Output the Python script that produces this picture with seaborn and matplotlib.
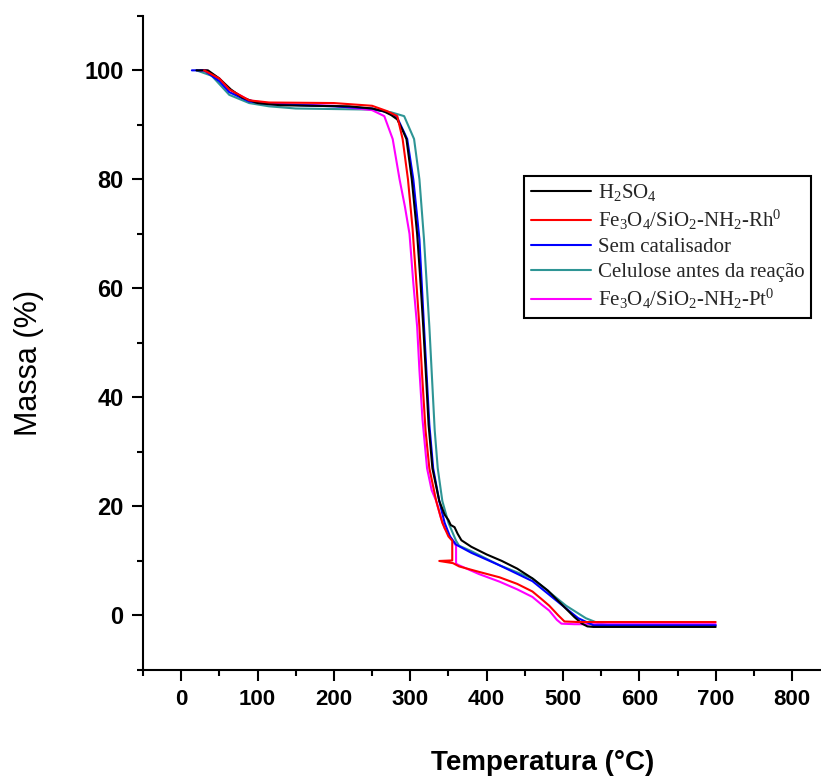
import pandas as pd
import matplotlib.pyplot as plt
import seaborn as sns
from matplotlib.ticker import MultipleLocator

# TGA curves (temperature in °C, mass in %)
h2so4_t = [20, 35, 50, 65, 80, 100, 130, 170, 220, 250, 265, 275, 283, 290, 295, 302, 309,
           313, 317, 321, 324, 329, 338, 345, 350, 353, 358, 362, 367, 380, 400, 420, 440,
           460, 480, 500, 515, 525, 532, 540, 600, 700]
h2so4_m = [100, 100, 98.5, 96.5, 95, 94, 93.6, 93.5, 93.4, 93.0, 92.5, 91.8, 91.0, 89.0, 87.4,
           80, 70, 62, 53, 43, 35, 27, 21, 18.5, 17.5, 16.6, 16.2, 15.0, 13.8, 12.6, 11.2,
           10.0, 8.6, 6.8, 4.6, 1.8, -0.3, -1.5, -2.0, -2.1, -2.1, -2.1]

rh_t = [30, 50, 63, 89, 115, 200, 250, 270, 283, 290, 297, 303, 306, 312, 316, 320, 325, 334,
        342, 350, 355, 355, 338, 356, 364, 390, 417, 440, 460, 472, 482, 494, 502, 520, 700]
rh_m = [100, 98.5, 96.5, 94.5, 94.1, 94.0, 93.5, 92.5, 91.6, 87.4, 80, 71, 65, 53, 43, 34, 27,
        21, 17, 14.5, 13.7, 10.1, 10.0, 9.6, 9.0, 8.0, 7.0, 5.8, 4.4, 3.0, 1.8, 0.0, -1.1,
        -1.2, -1.2]

sem_t = [14, 30, 50, 63, 89, 115, 200, 250, 270, 283, 296, 304, 312, 318, 325, 330, 338, 345,
         352, 360, 380, 417, 460, 504, 520, 540, 700]
sem_m = [100, 100, 98, 96, 94.3, 93.8, 93.4, 93.0, 92.3, 91.3, 87.4, 80, 69, 53, 35, 27, 21,
         17, 14.5, 13.0, 11.5, 9.2, 6.3, 1.3, -0.5, -1.8, -1.8]

cel_t = [20, 40, 63, 89, 115, 150, 200, 250, 275, 292, 305, 312, 318, 325, 332, 336, 342, 350,
         360, 364, 380, 417, 460, 504, 530, 548, 560, 700]
cel_m = [100, 99, 95.5, 94.0, 93.4, 93.0, 92.9, 92.8, 92.3, 91.6, 87.4, 80, 69, 53, 34, 27,
         21, 17, 13.7, 12.8, 11.8, 9.2, 6.8, 1.8, -0.5, -1.5, -1.8, -1.8]

pt_t = [25, 33, 50, 63, 89, 115, 200, 250, 266, 277, 286, 293, 299, 304, 309, 312, 316, 322,
        328, 334, 340, 345, 351, 358, 360, 360, 364, 390, 417, 440, 460, 472, 482, 492, 498,
        515, 700]
pt_m = [100, 100, 98.5, 96.5, 94.5, 93.9, 93.5, 92.7, 91.6, 87.4, 80, 75, 70, 61, 53, 45, 36,
        27, 23, 21, 18, 16, 14.7, 13.2, 12.8, 9.5, 9.2, 7.6, 6.2, 4.8, 3.4, 2.0, 0.9, -0.8,
        -1.5, -1.6, -1.6]

series = [
    ('Celulose antes da reação', cel_t, cel_m, '#2e9595'),
    ('Fe$_3$O$_4$/SiO$_2$-NH$_2$-Pt$^0$', pt_t, pt_m, '#ff00ff'),
    ('Sem catalisador', sem_t, sem_m, '#0000ff'),
    ('H$_2$SO$_4$', h2so4_t, h2so4_m, '#000000'),
    ('Fe$_3$O$_4$/SiO$_2$-NH$_2$-Rh$^0$', rh_t, rh_m, '#ff0000'),
]
legend_order = ['H$_2$SO$_4$', 'Fe$_3$O$_4$/SiO$_2$-NH$_2$-Rh$^0$', 'Sem catalisador',
                'Celulose antes da reação', 'Fe$_3$O$_4$/SiO$_2$-NH$_2$-Pt$^0$']

sns.set_style('ticks')
plt.rcParams['mathtext.fontset'] = 'custom'
plt.rcParams['mathtext.rm'] = 'Liberation Serif'
plt.rcParams['mathtext.default'] = 'regular'

fig = plt.figure(figsize=(8.21, 7.76), dpi=100)
ax = fig.add_axes([0.1742, 0.1366, 0.824, 0.843])

for name, t, m, c in series:
    df = pd.DataFrame({'t': t, 'm': m})
    sns.lineplot(data=df, x='t', y='m', sort=False, estimator=None, color=c,
                 linewidth=1.5, label=name, ax=ax)

ax.set_xlim(-50, 836)
ax.set_ylim(-10, 110)
ax.xaxis.set_minor_locator(MultipleLocator(50))
ax.set_xticks(range(0, 801, 100))
ax.yaxis.set_minor_locator(MultipleLocator(10))
ax.set_yticks(range(0, 101, 20))

sns.despine(ax=ax)
for s in ['left', 'bottom']:
    ax.spines[s].set_linewidth(1.5)
    ax.spines[s].set_color('black')
ax.tick_params(which='major', direction='out', length=8, width=1.5, color='black', pad=6,
               labelcolor='black')
ax.tick_params(which='minor', direction='out', length=4, width=1.5, color='black')
for lab in ax.get_xticklabels():
    lab.set_family(['Liberation Sans', 'DejaVu Sans'])
    lab.set_fontweight('bold')
    lab.set_fontsize(16)
for lab in ax.get_yticklabels():
    lab.set_family(['Liberation Sans', 'DejaVu Sans'])
    lab.set_fontweight('bold')
    lab.set_fontsize(17)

ax.set_xlabel('Temperatura (°C)', family=['Liberation Sans', 'DejaVu Sans'],
              fontweight='bold', fontsize=20, color='black')
ax.xaxis.set_label_coords(0.59, -0.122)
ax.set_ylabel('Massa (%)', family=['Liberation Sans', 'DejaVu Sans'], fontsize=22,
              color='black')
ax.yaxis.set_label_coords(-0.146, 0.47)

handles, labels = ax.get_legend_handles_labels()
lookup = dict(zip(labels, handles))
leg = ax.legend([lookup[k] for k in legend_order], legend_order,
                loc='upper left', bbox_to_anchor=(0.5636, 0.7554),
                prop={'family': 'Liberation Serif', 'size': 15},
                frameon=True, fancybox=False, edgecolor='black', framealpha=1,
                handlelength=2.9, handletextpad=0.35, labelspacing=0.25,
                borderpad=0.3, borderaxespad=0)
leg.get_frame().set_linewidth(1.5)

fig.savefig('out.png', dpi=100)
